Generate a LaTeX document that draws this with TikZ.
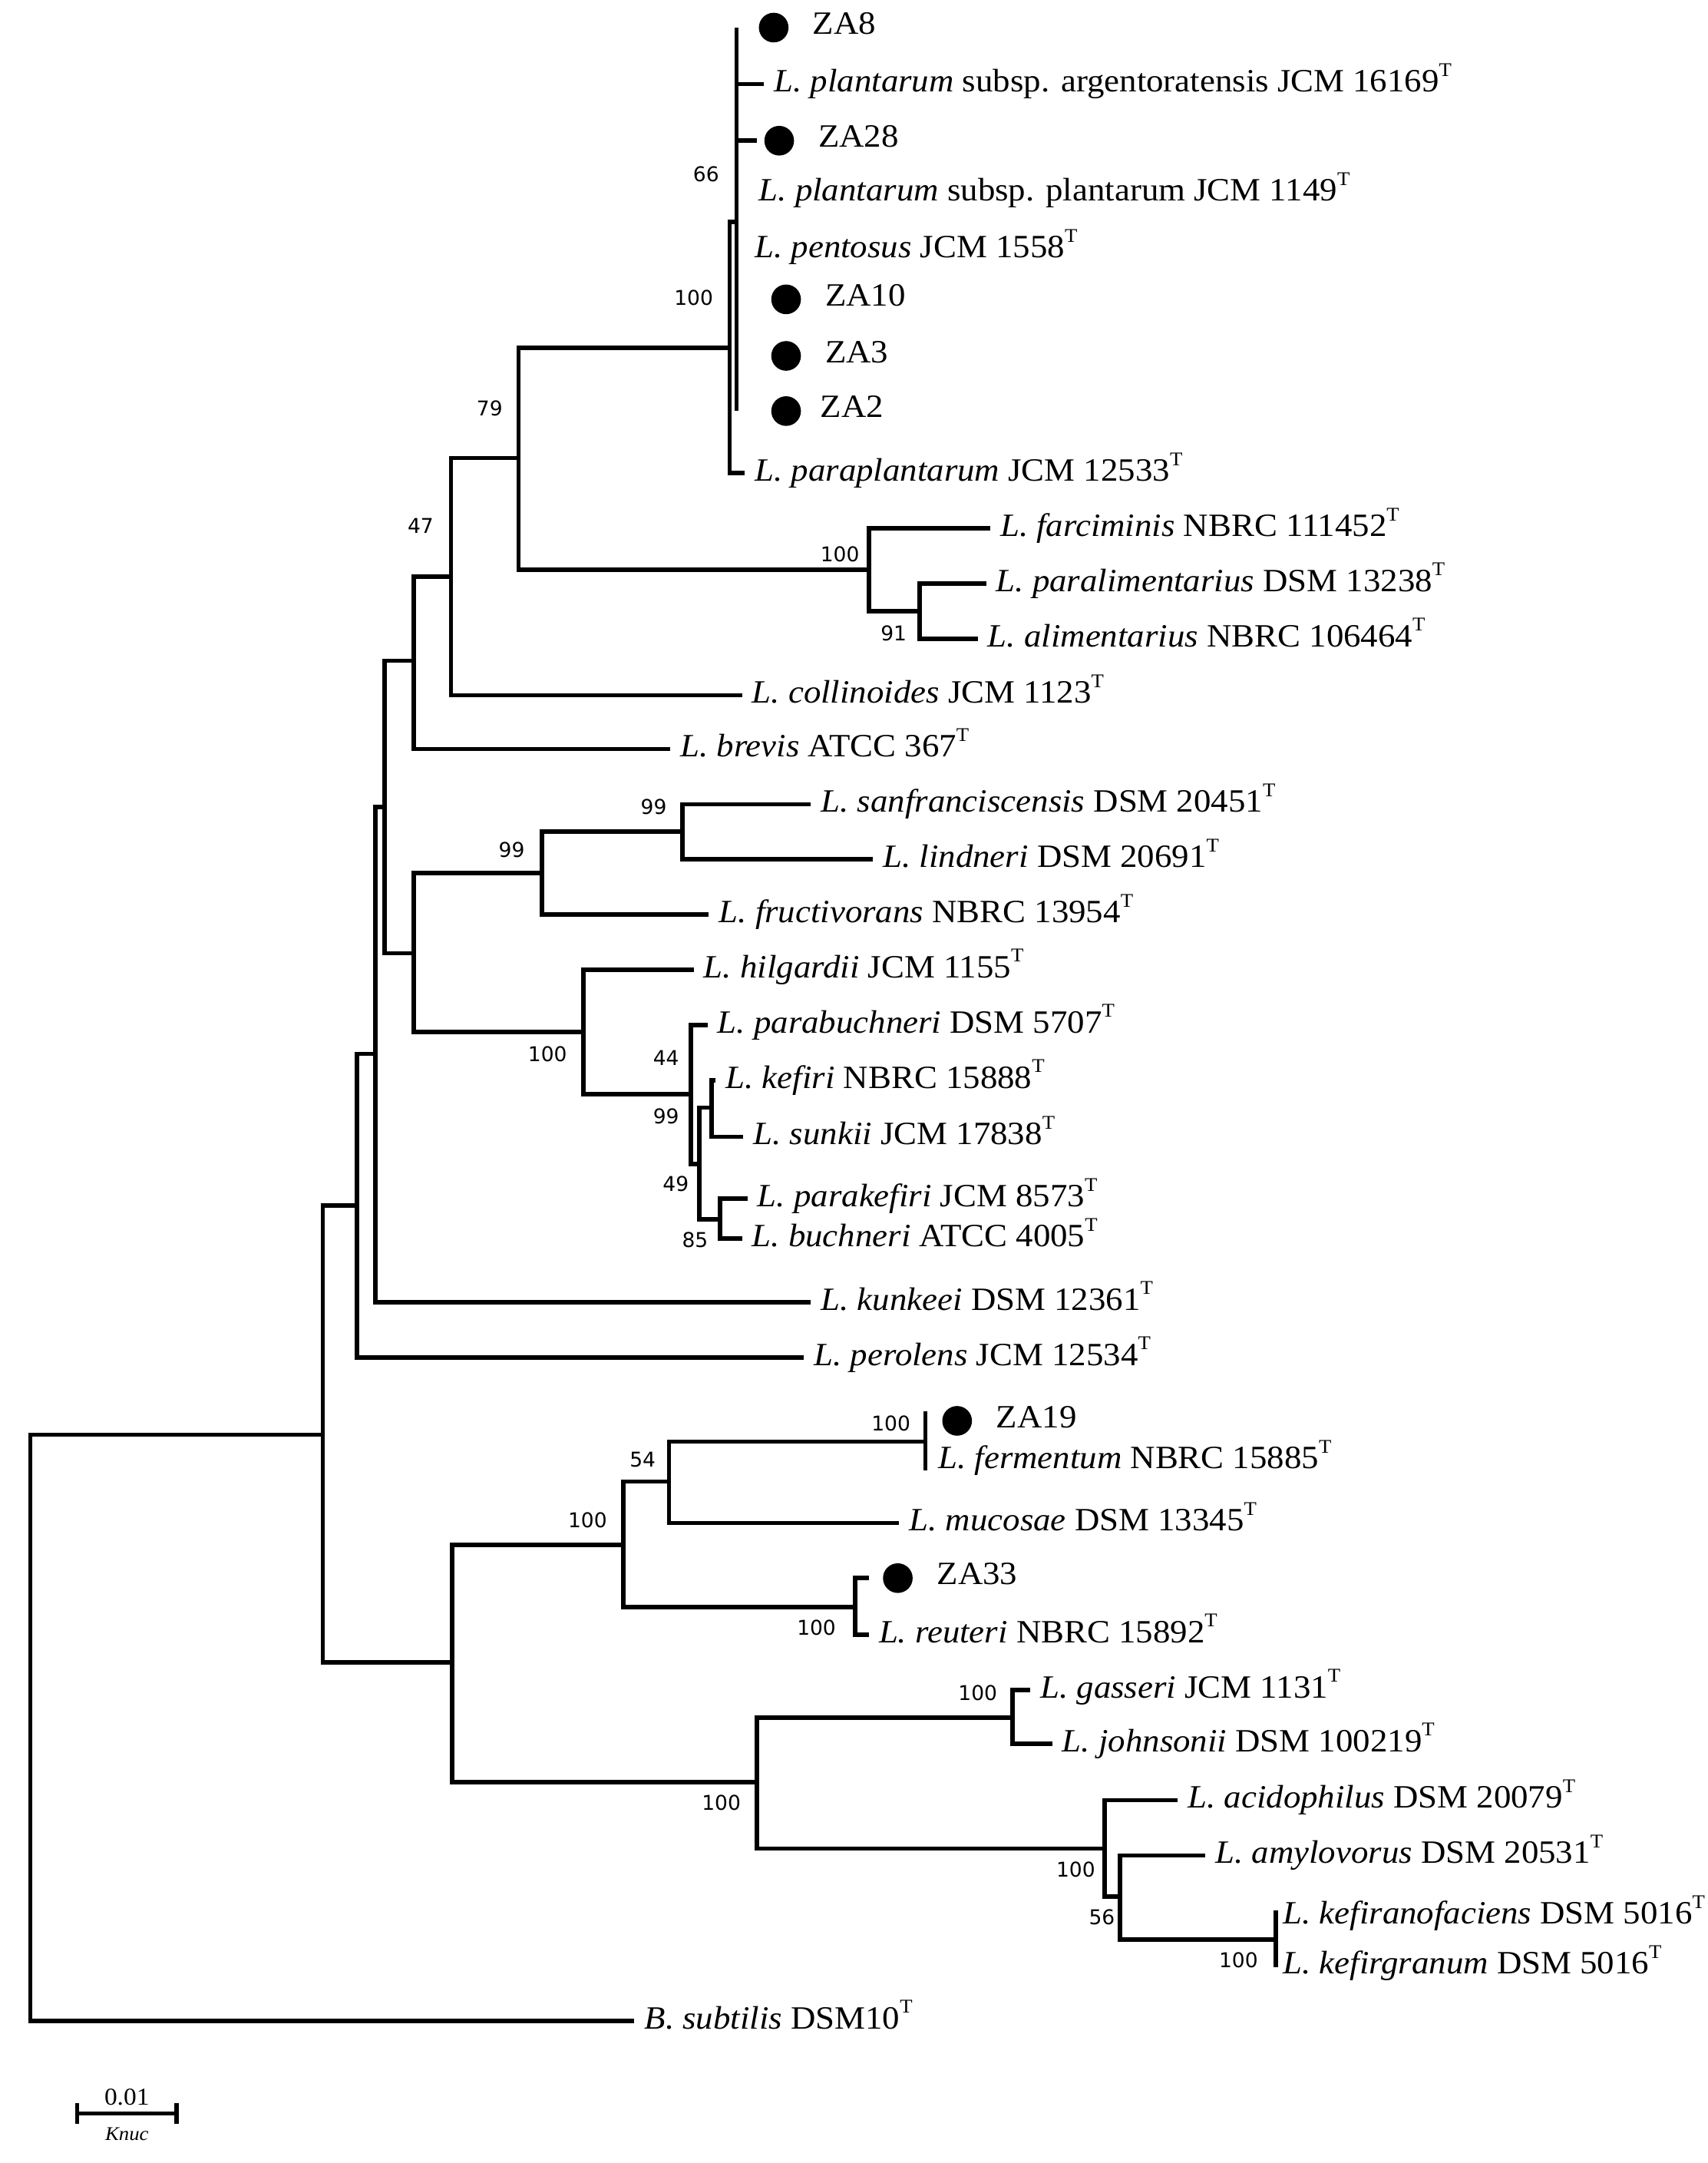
\documentclass[tikz,border=0pt]{standalone}
\usepackage{fontspec}
\setmainfont{Liberation Serif}
\newfontfamily\leaffont{Liberation Serif}[FakeStretch=1.06]
\newfontfamily\bootfont{DejaVu Sans}
\usetikzlibrary{positioning}
\newcommand{\typestrain}{\raisebox{1.05ex}{\fontsize{8pt}{8pt}\selectfont T}}

\begin{document}
\begin{tikzpicture}[x=0.2mm,y=-0.2mm]

\tikzset{branch/.style={line width=1.8pt},}
\tikzset{taxon/.style={anchor=west,inner xsep=1.4mm,inner ysep=0pt,text height=3.3mm,text depth=1mm,font={\fontsize{13.4pt}{15pt}\leaffont}},}
\tikzset{isolate/.style={circle,fill=black,inner sep=0pt,minimum size=4.3mm},}
\tikzset{isolatelabel/.style={taxon,yshift=0.2mm},}
\tikzset{boot/.style={inner sep=0pt,font={\fontsize{8.4pt}{10pt}\bootfont}},}
\tikzset{scalelabel/.style={inner sep=0pt,font={\fontsize{10pt}{11pt}\leaffont}},}

\useasboundingbox (0,0) rectangle (1238,1568);

%INNER NODES
\coordinate (root) at (22,1252);
\coordinate (nA) at (234,1040);
\coordinate (nB) at (259,874);
\coordinate (nC) at (272,764);
\coordinate (nD) at (279,585);
\coordinate (nE) at (300,479);
\coordinate (n47) at (327,418);
\coordinate (n79) at (376,332);
\coordinate (nPl) at (529,252);
\coordinate (n66) at (534,161);
\coordinate (nFa) at (630,413);
\coordinate (n91) at (667,443);
\coordinate (nF) at (300,691);
\coordinate (n99a) at (393,633);
\coordinate (n99b) at (495,603);
\coordinate (nHi) at (423,748);
\coordinate (n44) at (501,793);
\coordinate (n99c) at (507,844);
\coordinate (n99d) at (516,803);
\coordinate (n85) at (522,884);
\coordinate (nL) at (328,1205);
\coordinate (nM) at (452,1120);
\coordinate (n54) at (485,1074);
\coordinate (nFe) at (671,1045);
\coordinate (nRe) at (620,1165);
\coordinate (nG) at (549,1292);
\coordinate (nGa) at (734,1245);
\coordinate (nAc) at (801,1340);
\coordinate (nAm) at (812,1375);
\coordinate (nKf) at (925,1406);

%ISOLATES
\draw (561,20) node [isolate] (za8dot) {};
\draw (565,102) node [isolate] (za28dot) {};
\draw (570,217) node [isolate] (za10dot) {};
\draw (570,258) node [isolate] (za3dot) {};
\draw (570,298) node [isolate] (za2dot) {};
\draw (694,1030) node [isolate] (za19dot) {};
\draw (651,1144) node [isolate] (za33dot) {};

\node [isolatelabel,right=2mm of za8dot] (za8) {ZA8};
\node [isolatelabel,right=2mm of za28dot] (za28) {ZA28};
\node [isolatelabel,right=2mm of za10dot] (za10) {ZA10};
\node [isolatelabel,right=2mm of za3dot] (za3) {ZA3};
\node [isolatelabel,right=1.3mm of za2dot] (za2) {ZA2};
\node [isolatelabel,right=2mm of za19dot] (za19) {ZA19};
\node [isolatelabel,right=2mm of za33dot] (za33) {ZA33};

%TYPE STRAINS
\draw (554,61) node [taxon] (argen) {\textit{L. plantarum} subsp. argentoratensis JCM 16169\typestrain};
\draw (543,140) node [taxon] (plantarum) {\textit{L. plantarum} subsp. plantarum JCM 1149\typestrain};
\draw (540,181) node [taxon] (pentosus) {\textit{L. pentosus} JCM 1558\typestrain};
\draw (540,343) node [taxon] (paraplantarum) {\textit{L. paraplantarum} JCM 12533\typestrain};
\draw (718,383) node [taxon] (farciminis) {\textit{L. farciminis} NBRC 111452\typestrain};
\draw (715,423) node [taxon] (paralimentarius) {\textit{L. paralimentarius} DSM 13238\typestrain};
\draw (709,463) node [taxon] (alimentarius) {\textit{L. alimentarius} NBRC 106464\typestrain};
\draw (538,504) node [taxon] (collinoides) {\textit{L. collinoides} JCM 1123\typestrain};
\draw (486,543) node [taxon] (brevis) {\textit{L. brevis} ATCC 367\typestrain};
\draw (588,583) node [taxon] (sanfranciscensis) {\textit{L. sanfranciscensis} DSM 20451\typestrain};
\draw (633,623) node [taxon] (lindneri) {\textit{L. lindneri} DSM 20691\typestrain};
\draw (514,663) node [taxon] (fructivorans) {\textit{L. fructivorans} NBRC 13954\typestrain};
\draw (503,703) node [taxon] (hilgardii) {\textit{L. hilgardii} JCM 1155\typestrain};
\draw (513,743) node [taxon] (parabuchneri) {\textit{L. parabuchneri} DSM 5707\typestrain};
\draw (519,783) node [taxon] (kefiri) {\textit{L. kefiri} NBRC 15888\typestrain};
\draw (539,824) node [taxon] (sunkii) {\textit{L. sunkii} JCM 17838\typestrain};
\draw (542,869) node [taxon] (parakefiri) {\textit{L. parakefiri} JCM 8573\typestrain};
\draw (538,898) node [taxon] (buchneri) {\textit{L. buchneri} ATCC 4005\typestrain};
\draw (588,944) node [taxon] (kunkeei) {\textit{L. kunkeei} DSM 12361\typestrain};
\draw (583,984) node [taxon] (perolens) {\textit{L. perolens} JCM 12534\typestrain};
\draw (673,1059) node [taxon] (fermentum) {\textit{L. fermentum} NBRC 15885\typestrain};
\draw (652,1104) node [taxon] (mucosae) {\textit{L. mucosae} DSM 13345\typestrain};
\draw (630,1185) node [taxon] (reuteri) {\textit{L. reuteri} NBRC 15892\typestrain};
\draw (747,1225) node [taxon] (gasseri) {\textit{L. gasseri} JCM 1131\typestrain};
\draw (763,1264) node [taxon] (johnsonii) {\textit{L. johnsonii} DSM 100219\typestrain};
\draw (854,1305) node [taxon] (acidophilus) {\textit{L. acidophilus} DSM 20079\typestrain};
\draw (874,1345) node [taxon] (amylovorus) {\textit{L. amylovorus} DSM 20531\typestrain};
\draw (923,1389) node [taxon] (kefiranofaciens) {\textit{L. kefiranofaciens} DSM 5016\typestrain};
\draw (923,1425) node [taxon] (kefirgranum) {\textit{L. kefirgranum} DSM 5016\typestrain};
\draw (460,1465) node [taxon] (bsub) {\textit{B. subtilis} DSM10\typestrain};

%BRANCHES
\draw[branch] (root) |- (nA);
\draw[branch] (root) |- (bsub.west);
\draw[branch] (nA) |- (nB);
\draw[branch] (nA) |- (nL);
\draw[branch] (nB) |- (nC);
\draw[branch] (nB) |- (perolens.west);
\draw[branch] (nC) |- (nD);
\draw[branch] (nC) |- (kunkeei.west);
\draw[branch] (nD) |- (nE);
\draw[branch] (nD) |- (nF);
\draw[branch] (nE) |- (n47);
\draw[branch] (nE) |- (brevis.west);
\draw[branch] (n47) |- (n79);
\draw[branch] (n47) |- (collinoides.west);
\draw[branch] (n79) |- (nPl);
\draw[branch] (n79) |- (nFa);
\draw[branch] (nPl) |- (n66);
\draw[branch] (nPl) |- (paraplantarum.west);
\draw[branch] (n66 |- za8dot) -- (n66 |- za2dot);
\draw[branch] (n66 |- argen.west) -- (argen.west);
\draw[branch,shorten >=1mm] (n66 |- za28dot) -- (za28dot.west);
\draw[branch] (nFa) |- (farciminis.west);
\draw[branch] (nFa) |- (n91);
\draw[branch] (n91) |- (paralimentarius.west);
\draw[branch] (n91) |- (alimentarius.west);
\draw[branch] (nF) |- (n99a);
\draw[branch] (nF) |- (nHi);
\draw[branch] (n99a) |- (n99b);
\draw[branch] (n99a) |- (fructivorans.west);
\draw[branch] (n99b) |- (sanfranciscensis.west);
\draw[branch] (n99b) |- (lindneri.west);
\draw[branch] (nHi) |- (hilgardii.west);
\draw[branch] (nHi) |- (n44);
\draw[branch] (n44) |- (parabuchneri.west);
\draw[branch] (n44) |- (n99c);
\draw[branch] (n99c) |- (n99d);
\draw[branch] (n99c) |- (n85);
\draw[branch] (n99d) |- (kefiri.west);
\draw[branch] (n99d) |- (sunkii.west);
\draw[branch] (n85) |- (parakefiri.west);
\draw[branch] (n85) |- (buchneri.west);
\draw[branch] (nL) |- (nM);
\draw[branch] (nL) |- (nG);
\draw[branch] (nM) |- (n54);
\draw[branch] (nM) |- (nRe);
\draw[branch] (n54) |- (nFe);
\draw[branch] (n54) |- (mucosae.west);
\draw[branch] (nFe) ++(0,-22) -- ++(0,43);
\draw[branch,shorten >=2mm] (nRe) |- (za33dot.west);
\draw[branch] (nRe) |- (reuteri.west);
\draw[branch] (nG) |- (nGa);
\draw[branch] (nG) |- (nAc);
\draw[branch] (nGa) |- (gasseri.west);
\draw[branch] (nGa) |- (johnsonii.west);
\draw[branch] (nAc) |- (acidophilus.west);
\draw[branch] (nAc) |- (nAm);
\draw[branch] (nAm) |- (amylovorus.west);
\draw[branch] (nAm) |- (nKf);
\draw[branch] (nKf) ++(0,-21) -- ++(0,41);

%BOOTSTRAP
\draw (512,126) node [boot] (b66) {66};
\draw (503,216) node [boot] (bPl) {100};
\draw (355,296) node [boot] (b79) {79};
\draw (305,381) node [boot] (b47) {47};
\draw (609,402) node [boot] (bFa) {100};
\draw (648,459) node [boot] (b91) {91};
\draw (474,585) node [boot] (b99b) {99};
\draw (371,616) node [boot] (b99a) {99};
\draw (397,764) node [boot] (bHi) {100};
\draw (483,767) node [boot] (b44) {44};
\draw (483,809) node [boot] (b99c) {99};
\draw (490,858) node [boot] (b49) {49};
\draw (504,899) node [boot] (b85) {85};
\draw (646,1032) node [boot] (bFe) {100};
\draw (466,1058) node [boot] (b54) {54};
\draw (426,1102) node [boot] (bM) {100};
\draw (592,1180) node [boot] (bRe) {100};
\draw (709,1227) node [boot] (bGa) {100};
\draw (523,1307) node [boot] (bG) {100};
\draw (780,1355) node [boot] (bAc) {100};
\draw (799,1390) node [boot] (b56) {56};
\draw (898,1421) node [boot] (bKf) {100};

%SCALE BAR
\coordinate (sbl) at (56,1532);
\coordinate (sbr) at (128,1532);
\draw[branch] (sbl) -- (sbr);
\draw[branch] (sbl) ++(0,-7.5) -- ++(0,15);
\draw[branch] (sbr) ++(0,-7.5) -- ++(0,15);
\draw (92,1520) node [scalelabel] (sbvalue) {0.01};
\draw (92,1547) node [scalelabel,font={\fontsize{8pt}{9pt}\leaffont\itshape}] (sbunit) {Knuc};

\end{tikzpicture}
\end{document}
